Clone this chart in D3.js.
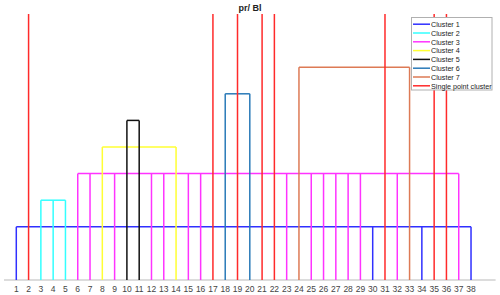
<!DOCTYPE html>
<html>
<head>
<meta charset="utf-8">
<script src="https://cdn.jsdelivr.net/npm/d3@7"></script>
<style>
  body { margin: 0; background: #fff; }
  text { font-family: "Liberation Sans", Arial, sans-serif; }
</style>
</head>
<body>
<div class="canvas"></div>
<script>
// leaf labels along the x axis
const ticks = d3.range(1, 39);

// cluster names, member leaves and merge height
const clusterNames = ['Cluster 1', 'Cluster 2', 'Cluster 3', 'Cluster 4', 'Cluster 5', 'Cluster 6', 'Cluster 7'];
const clusterColors = ['#3030ff', '#33ffff', '#ff33ff', '#ffff33', '#111111', '#2a7ab8', '#dd7a55'];
const clusterMembers = [
  [1, 30, 34, 38],
  [3, 4, 5],
  [6, 7, 9, 12, 13, 15, 16, 23, 25, 26, 27, 28, 29, 32, 37],
  [8, 14],
  [10, 11],
  [18, 20],
  [24, 33]
];
const clusterHeights = [2, 3, 4, 5, 6, 7, 8];

// single point clusters run to the top
const singles = [2, 17, 19, 21, 22, 31, 35, 36];
const singleHeight = 10;
const singleColor = '#ff2a2a';

const W = 500, H = 295;
var svg = d3.select('.canvas').append('svg').attr('width', W).attr('height', H);

let x = d3.scaleLinear().domain([0, 40]).range([4, 495.6]);
let y = d3.scaleLinear().domain([0, 10]).range([280, 14]);

// axis
svg.append('line')
    .attr('x1', x(0)).attr('x2', x(40))
    .attr('y1', y(0)).attr('y2', y(0))
    .attr('stroke', '#d0d0d0').attr('stroke-width', 1.5);

svg.selectAll('.tick')
    .data(ticks)
    .enter().append('text')
    .text(d => d)
    .attr('x', d => x(d))
    .attr('y', 292)
    .attr('text-anchor', 'middle')
    .attr('font-size', 8.5)
    .attr('fill', '#444');

// clusters
for (let c = 0; c < clusterMembers.length; c++) {
    let m = clusterMembers[c];
    let h = clusterHeights[c];
    let g = svg.append('g')
        .attr('stroke', clusterColors[c])
        .attr('stroke-width', 1.5)
        .attr('fill', 'none');
    g.selectAll('line')
        .data(m)
        .enter().append('line')
        .attr('x1', d => x(d)).attr('x2', d => x(d))
        .attr('y1', y(0)).attr('y2', y(h));
    g.append('line')
        .attr('x1', x(d3.min(m))).attr('x2', x(d3.max(m)))
        .attr('y1', y(h)).attr('y2', y(h));
}

// single point clusters
svg.append('g')
    .attr('stroke', singleColor)
    .attr('stroke-width', 1.5)
    .selectAll('line')
    .data(singles)
    .enter().append('line')
    .attr('x1', d => x(d)).attr('x2', d => x(d))
    .attr('y1', y(0)).attr('y2', y(singleHeight));

// title
svg.append('text')
    .text('pr/ Bl')
    .attr('x', 250)
    .attr('y', 11)
    .attr('text-anchor', 'middle')
    .attr('font-size', 9)
    .attr('font-weight', 'bold')
    .attr('fill', '#222');

// legend
let legendNames = clusterNames.concat(['Single point cluster']);
let legendColors = clusterColors.concat([singleColor]);
let lg = svg.append('g');
lg.append('rect')
    .attr('x', 411.5).attr('y', 17.5)
    .attr('width', 80.5).attr('height', 72.5)
    .attr('fill', '#fff')
    .attr('stroke', '#b0b0b0')
    .attr('stroke-width', 1);
legendNames.forEach((name, i) => {
    let ly = 24.2 + i * 8.8;
    lg.append('line')
        .attr('x1', 413).attr('x2', 430)
        .attr('y1', ly).attr('y2', ly)
        .attr('stroke', legendColors[i])
        .attr('stroke-width', 1.5);
    lg.append('text')
        .text(name)
        .attr('x', 431)
        .attr('y', ly + 2.7)
        .attr('font-size', 7.2)
        .attr('fill', '#222');
});
</script>
</body>
</html>
